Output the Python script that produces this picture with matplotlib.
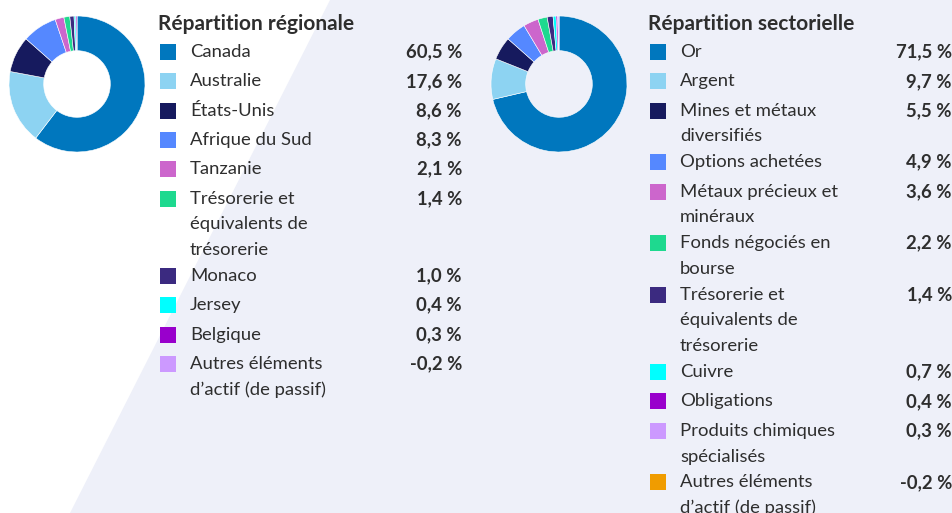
import matplotlib.pyplot as plt
from matplotlib.patches import Polygon, Rectangle

W, H = 953, 513

# regional breakdown
reg_labels = ["Canada", "Australie", "États-Unis", "Afrique du Sud", "Tanzanie",
              "Trésorerie et\néquivalents de\ntrésorerie", "Monaco", "Jersey",
              "Belgique", "Autres éléments\nd’actif (de passif)"]
reg_values = [60.5, 17.6, 8.6, 8.3, 2.1, 1.4, 1.0, 0.4, 0.3, -0.2]
reg_colors = ["#0077BE", "#8DD3F2", "#161A5E", "#5588FF", "#CC66CC",
              "#1ED98F", "#3B2A80", "#00FFFF", "#9900CC", "#CC99FF"]

# sector breakdown
sec_labels = ["Or", "Argent", "Mines et métaux\ndiversifiés", "Options achetées",
              "Métaux précieux et\nminéraux", "Fonds négociés en\nbourse",
              "Trésorerie et\néquivalents de\ntrésorerie", "Cuivre", "Obligations",
              "Produits chimiques\nspécialisés", "Autres éléments\nd’actif (de passif)"]
sec_values = [71.5, 9.7, 5.5, 4.9, 3.6, 2.2, 1.4, 0.7, 0.4, 0.3, -0.2]
sec_colors = ["#0077BE", "#8DD3F2", "#161A5E", "#5588FF", "#CC66CC",
              "#1ED98F", "#3B2A80", "#00FFFF", "#9900CC", "#CC99FF", "#F09C00"]

plt.rcParams['font.family'] = ['Lato', 'DejaVu Sans']
TXT = "#2E2E2E"

fig = plt.figure(figsize=(W / 100, H / 100), dpi=100)
bg = fig.add_axes([0, 0, 1, 1])
bg.set_xlim(0, W)
bg.set_ylim(H, 0)
bg.axis('off')

# lavender diagonal background
bg.add_patch(Polygon([(330, 0), (W, 0), (W, H), (70, H)], closed=True,
                     facecolor="#EEF0F9", edgecolor="none"))


def fmt(v):
    return f"{v:.1f}".replace(".", ",") + " %"


def block(cx, title, labels, values, colors, x0, xr):
    # donut
    r = 68
    ax = fig.add_axes([(cx - r) / W, (H - 84 - r) / H, 2 * r / W, 2 * r / H])
    ax.pie([max(v, 0) for v in values], colors=colors, startangle=90,
           counterclock=False, radius=1,
           wedgeprops=dict(width=0.51, edgecolor="white", linewidth=0.4))
    ax.set_xlim(-1, 1)
    ax.set_ylim(-1, 1)
    ax.set_aspect('equal')
    ax.axis('off')

    bg.text(x0 - 2, 24, title, fontsize=15, fontweight='bold', color=TXT,
            ha='left', va='center')
    y = 52
    for lab, v, c in zip(labels, values, colors):
        bg.add_patch(Rectangle((x0, y - 8), 16, 16, facecolor=c, edgecolor="none"))
        lines = lab.split("\n")
        for i, ln in enumerate(lines):
            bg.text(x0 + 30, y + i * 25.8, ln, fontsize=13.3, color=TXT,
                    ha='left', va='center')
        bg.text(xr, y, fmt(v), fontsize=13.3, fontweight='bold', color=TXT,
                ha='right', va='center')
        y += 29.3 if len(lines) == 1 else len(lines) * 25.8


block(77, "Répartition régionale", reg_labels, reg_values, reg_colors, 160, 462)
block(559, "Répartition sectorielle", sec_labels, sec_values, sec_colors, 650, 952)

fig.savefig("out.png", dpi=100)
